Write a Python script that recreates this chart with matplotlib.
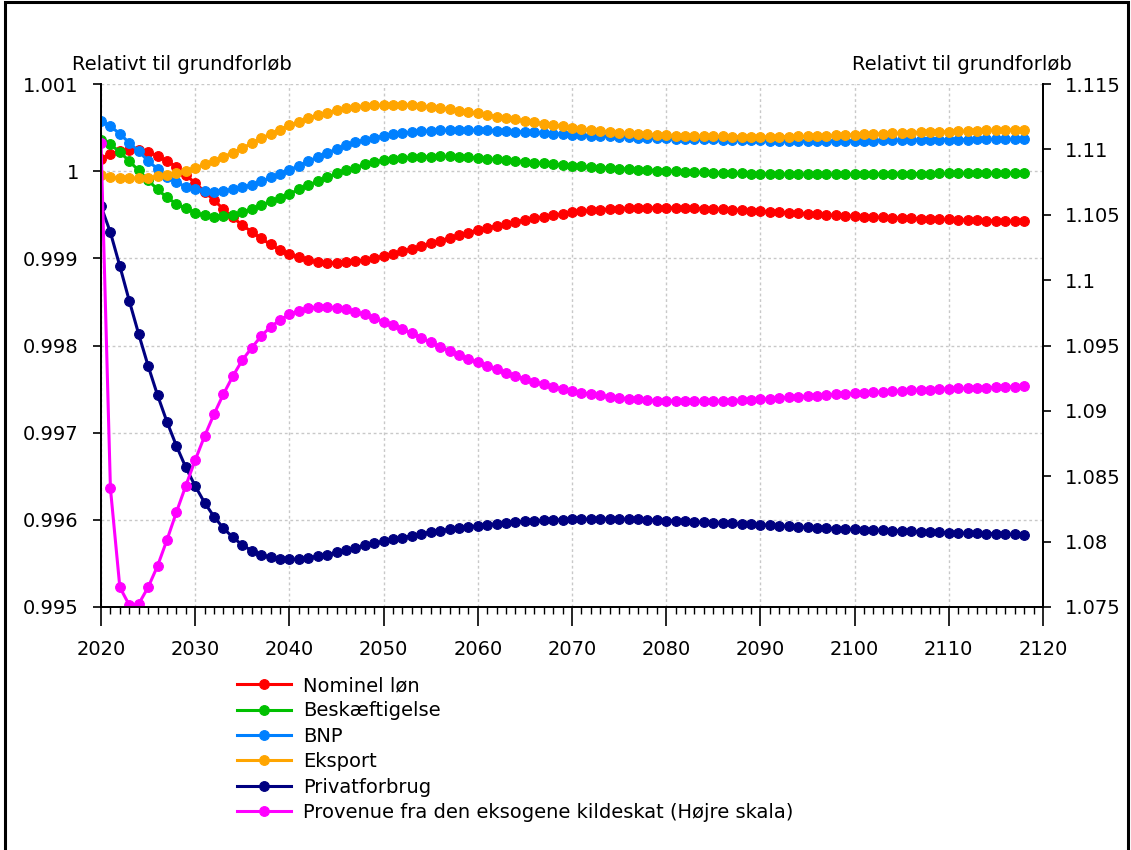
import matplotlib.pyplot as plt
import numpy as np
from matplotlib.ticker import MultipleLocator, FuncFormatter
from matplotlib.patches import Rectangle

years = np.arange(2020, 2119)

nominel_lon = [
    1.000138, 1.000195, 1.000233, 1.000244, 1.000241, 1.000221, 1.000175, 1.000115, 1.000049, 0.999954,
    0.999866, 0.999763, 0.999667, 0.999564, 0.999469, 0.999381, 0.999304, 0.999228, 0.999159, 0.999094,
    0.999048, 0.999010, 0.998979, 0.998960, 0.998950, 0.998946, 0.998953, 0.998966, 0.998983, 0.999002,
    0.999025, 0.999054, 0.999083, 0.999111, 0.999140, 0.999171, 0.999203, 0.999232, 0.999266, 0.999295,
    0.999323, 0.999349, 0.999372, 0.999394, 0.999417, 0.999438, 0.999458, 0.999477, 0.999495, 0.999511,
    0.999526, 0.999539, 0.999549, 0.999557, 0.999565, 0.999571, 0.999576, 0.999578, 0.999579, 0.999579,
    0.999579, 0.999578, 0.999576, 0.999573, 0.999571, 0.999568, 0.999563, 0.999558, 0.999553, 0.999547,
    0.999541, 0.999536, 0.999530, 0.999524, 0.999518, 0.999513, 0.999507, 0.999500, 0.999494, 0.999489,
    0.999484, 0.999479, 0.999475, 0.999470, 0.999466, 0.999462, 0.999459, 0.999455, 0.999452, 0.999448,
    0.999446, 0.999443, 0.999439, 0.999436, 0.999432, 0.999430, 0.999428, 0.999425, 0.999423,
]

beskaeftigelse = [
    1.000356, 1.000306, 1.000221, 1.000115, 1.000008, 0.999897, 0.999790, 0.999698, 0.999625, 0.999572,
    0.999522, 0.999492, 0.999476, 0.999484, 0.999495, 0.999533, 0.999564, 0.999610, 0.999653, 0.999694,
    0.999740, 0.999790, 0.999839, 0.999885, 0.999928, 0.999974, 1.000011, 1.000042, 1.000077, 1.000103,
    1.000126, 1.000140, 1.000150, 1.000158, 1.000163, 1.000166, 1.000169, 1.000169, 1.000165, 1.000158,
    1.000150, 1.000142, 1.000134, 1.000126, 1.000117, 1.000108, 1.000099, 1.000089, 1.000080, 1.000071,
    1.000063, 1.000055, 1.000048, 1.000041, 1.000036, 1.000030, 1.000024, 1.000018, 1.000013, 1.000007,
    1.000001, 0.999997, 0.999992, 0.999989, 0.999985, 0.999982, 0.999978, 0.999976, 0.999974, 0.999971,
    0.999969, 0.999968, 0.999967, 0.999966, 0.999966, 0.999966, 0.999966, 0.999966, 0.999966, 0.999966,
    0.999966, 0.999967, 0.999967, 0.999968, 0.999969, 0.999970, 0.999971, 0.999972, 0.999972, 0.999974,
    0.999974, 0.999975, 0.999976, 0.999977, 0.999977, 0.999978, 0.999979, 0.999979, 0.999981,
]

bnp = [
    1.000573, 1.000516, 1.000428, 1.000325, 1.000229, 1.000118, 1.000026, 0.999935, 0.999874, 0.999820,
    0.999790, 0.999771, 0.999763, 0.999778, 0.999790, 0.999813, 0.999847, 0.999882, 0.999928, 0.999969,
    1.000015, 1.000061, 1.000111, 1.000164, 1.000210, 1.000252, 1.000295, 1.000329, 1.000359, 1.000382,
    1.000404, 1.000421, 1.000436, 1.000447, 1.000456, 1.000463, 1.000468, 1.000470, 1.000471, 1.000471,
    1.000470, 1.000468, 1.000464, 1.000460, 1.000455, 1.000450, 1.000444, 1.000438, 1.000431, 1.000425,
    1.000420, 1.000414, 1.000408, 1.000404, 1.000399, 1.000394, 1.000390, 1.000386, 1.000382, 1.000378,
    1.000375, 1.000373, 1.000370, 1.000368, 1.000366, 1.000364, 1.000361, 1.000359, 1.000357, 1.000354,
    1.000352, 1.000351, 1.000350, 1.000349, 1.000347, 1.000347, 1.000347, 1.000347, 1.000347, 1.000347,
    1.000349, 1.000350, 1.000351, 1.000352, 1.000353, 1.000354, 1.000356, 1.000357, 1.000358, 1.000359,
    1.000360, 1.000361, 1.000362, 1.000364, 1.000364, 1.000365, 1.000366, 1.000366, 1.000367,
]

eksport = [
    0.999951, 0.999928, 0.999920, 0.999920, 0.999920, 0.999923, 0.999939, 0.999958, 0.999977, 1.000003,
    1.000038, 1.000077, 1.000118, 1.000164, 1.000214, 1.000264, 1.000321, 1.000375, 1.000428, 1.000478,
    1.000524, 1.000565, 1.000608, 1.000642, 1.000669, 1.000700, 1.000722, 1.000737, 1.000750, 1.000757,
    1.000757, 1.000763, 1.000763, 1.000757, 1.000748, 1.000737, 1.000725, 1.000711, 1.000695, 1.000679,
    1.000662, 1.000645, 1.000627, 1.000610, 1.000593, 1.000577, 1.000561, 1.000545, 1.000529, 1.000513,
    1.000498, 1.000485, 1.000472, 1.000461, 1.000451, 1.000442, 1.000433, 1.000427, 1.000421, 1.000416,
    1.000413, 1.000409, 1.000406, 1.000404, 1.000401, 1.000399, 1.000398, 1.000397, 1.000396, 1.000394,
    1.000394, 1.000394, 1.000396, 1.000397, 1.000399, 1.000401, 1.000405, 1.000408, 1.000412, 1.000415,
    1.000420, 1.000423, 1.000427, 1.000430, 1.000433, 1.000437, 1.000440, 1.000444, 1.000447, 1.000451,
    1.000453, 1.000456, 1.000460, 1.000463, 1.000467, 1.000470, 1.000472, 1.000476, 1.000478,
]

privatforbrug = [
    0.999599, 0.999297, 0.998911, 0.998513, 0.998131, 0.997767, 0.997431, 0.997125, 0.996850, 0.996602,
    0.996388, 0.996196, 0.996036, 0.995903, 0.995799, 0.995711, 0.995646, 0.995600, 0.995570, 0.995547,
    0.995547, 0.995550, 0.995565, 0.995581, 0.995600, 0.995627, 0.995654, 0.995680, 0.995708, 0.995730,
    0.995753, 0.995776, 0.995795, 0.995818, 0.995841, 0.995860, 0.995875, 0.995891, 0.995906, 0.995921,
    0.995932, 0.995944, 0.995955, 0.995967, 0.995975, 0.995983, 0.995986, 0.995994, 0.995998, 0.996001,
    0.996006, 0.996006, 0.996010, 0.996010, 0.996010, 0.996010, 0.996006, 0.996005, 0.996002, 0.995997,
    0.995992, 0.995988, 0.995983, 0.995978, 0.995972, 0.995967, 0.995962, 0.995958, 0.995953, 0.995949,
    0.995944, 0.995938, 0.995932, 0.995926, 0.995920, 0.995914, 0.995909, 0.995905, 0.995900, 0.995895,
    0.995891, 0.995887, 0.995883, 0.995880, 0.995876, 0.995872, 0.995868, 0.995864, 0.995860, 0.995856,
    0.995852, 0.995850, 0.995848, 0.995845, 0.995843, 0.995841, 0.995837, 0.995833, 0.995829,
]

# right-hand scale
provenue = [
    1.110500, 1.084075, 1.076506, 1.075153, 1.075229, 1.076506, 1.078134, 1.080122, 1.082240, 1.084274,
    1.086238, 1.088073, 1.089755, 1.091284, 1.092660, 1.093883, 1.094823, 1.095718, 1.096429, 1.096941,
    1.097377, 1.097652, 1.097836, 1.097958, 1.097958, 1.097881, 1.097759, 1.097576, 1.097377, 1.097117,
    1.096811, 1.096559, 1.096253, 1.095924, 1.095588, 1.095259, 1.094900, 1.094594, 1.094265, 1.093960,
    1.093707, 1.093424, 1.093172, 1.092912, 1.092660, 1.092431, 1.092224, 1.092025, 1.091842, 1.091666,
    1.091536, 1.091383, 1.091284, 1.091184, 1.091077, 1.091001, 1.090925, 1.090879, 1.090825, 1.090772,
    1.090760, 1.090752, 1.090746, 1.090742, 1.090742, 1.090749, 1.090765, 1.090790, 1.090820, 1.090850,
    1.090879, 1.090930, 1.090980, 1.091030, 1.091080, 1.091131, 1.091175, 1.091218, 1.091260, 1.091300,
    1.091337, 1.091378, 1.091418, 1.091458, 1.091497, 1.091536, 1.091568, 1.091600, 1.091630, 1.091660,
    1.091689, 1.091712, 1.091735, 1.091757, 1.091777, 1.091796, 1.091830, 1.091862, 1.091895,
]

left_series = [
    ("Nominel løn", nominel_lon, "#FF0000"),
    ("Beskæftigelse", beskaeftigelse, "#00C000"),
    ("BNP", bnp, "#0080FF"),
    ("Eksport", eksport, "#FFA500"),
    ("Privatforbrug", privatforbrug, "#000080"),
]
right_label = "Provenue fra den eksogene kildeskat (Højre skala)"
right_color = "#FF00FF"

FS = 14
plt.rcParams["font.family"] = ["DejaVu Sans"]
plt.rcParams["font.size"] = FS

W, H = 1131, 850
fig = plt.figure(figsize=(W / 100, H / 100), dpi=100)
ax = fig.add_axes([101 / W, 1 - 607 / H, (1043 - 101) / W, (607 - 84) / H])
ax2 = ax.twinx()

line_kw = dict(marker="o", markersize=7.0, linewidth=2.2, markeredgewidth=0.8)
handles = []
for label, vals, col in left_series:
    h, = ax.plot(years, vals, color=col, label=label, **line_kw)
    handles.append(h)
h, = ax2.plot(years, provenue, color=right_color, label=right_label, **line_kw)
handles.append(h)

ax.set_xlim(2020, 2120)
ax.set_ylim(0.995, 1.001)
ax2.set_ylim(1.075, 1.115)

ax.xaxis.set_major_locator(MultipleLocator(10))
ax.xaxis.set_minor_locator(MultipleLocator(1))
ax.yaxis.set_major_locator(MultipleLocator(0.001))
ax2.yaxis.set_major_locator(MultipleLocator(0.005))
fmt = FuncFormatter(lambda v, p: "%g" % round(v, 4))
ax.yaxis.set_major_formatter(fmt)
ax2.yaxis.set_major_formatter(fmt)

ax.tick_params(axis="x", which="major", direction="out", length=14, width=1.2, pad=10, labelsize=FS)
ax.tick_params(axis="x", which="minor", direction="out", length=5, width=1.0)
ax.tick_params(axis="y", direction="out", length=6, width=1.2, pad=10, labelsize=FS)
ax2.tick_params(axis="y", direction="out", length=6, width=1.2, pad=10, labelsize=FS)

for a in (ax, ax2):
    a.spines["top"].set_visible(False)
    for s in ("left", "right", "bottom"):
        a.spines[s].set_linewidth(1.3)

ax.grid(True, which="major", color="#C8C8C8", linestyle=(0, (2, 2)), linewidth=1.0)
ax.set_axisbelow(True)

fig.text(72 / W, 1 - 65 / H, "Relativt til grundforløb", ha="left", va="center", fontsize=FS)
fig.text(1072 / W, 1 - 65 / H, "Relativt til grundforløb", ha="right", va="center", fontsize=FS)

fig.legend(handles=handles, loc="upper left", bbox_to_anchor=(237 / W, 1 - 676 / H),
           frameon=False, borderpad=0, borderaxespad=0, handlelength=2.8,
           handletextpad=0.6, labelspacing=0.33, fontsize=FS)

# outer frame of the figure (bottom edge runs past the image)
fig.add_artist(Rectangle((5 / W, -0.1), (1128 - 5) / W, 1.1 - 2 / H,
                         transform=fig.transFigure, fill=False, edgecolor="black",
                         linewidth=2.2, clip_on=False))

fig.savefig("out.png", dpi=100)
